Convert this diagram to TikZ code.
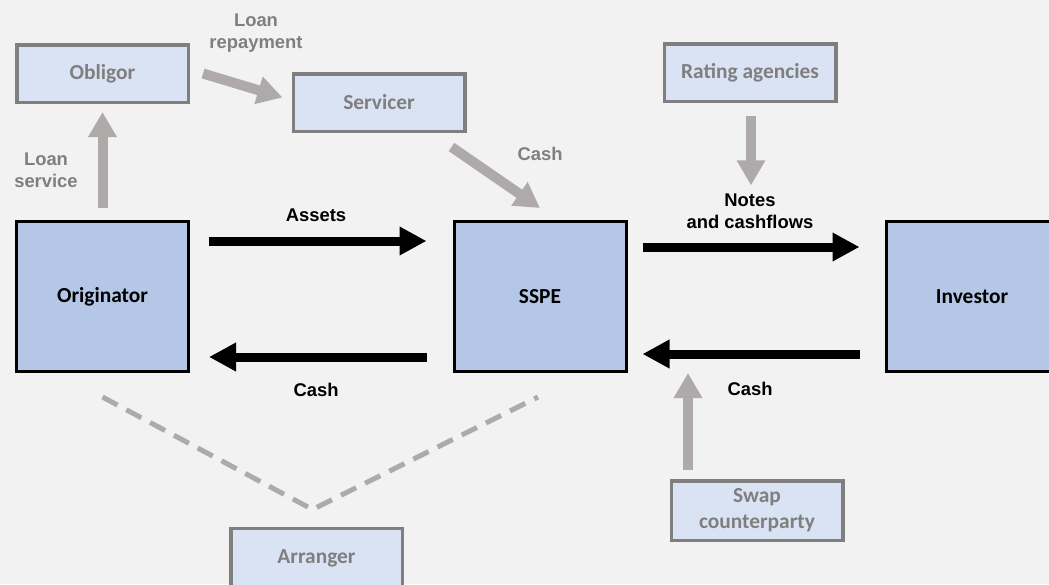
\documentclass[tikz,border=0pt]{standalone}
\usepackage{fontspec}
\setmainfont{Carlito}
\newfontfamily\arialf{Liberation Sans}
\usetikzlibrary{arrows.meta,calc}
\definecolor{bgc}{HTML}{F2F2F2}
\definecolor{lightfill}{HTML}{DAE3F3}
\definecolor{darkfill}{HTML}{B4C7E7}
\definecolor{boxgray}{HTML}{7F7F7F}
\definecolor{arrgray}{HTML}{AEAAAA}
\definecolor{txtgray}{HTML}{7F7F7F}
\tikzset{
  smallbox/.style={draw=boxgray, line width=3.5pt, fill=lightfill, text=txtgray,
    minimum width=171.5pt, minimum height=57.5pt, inner sep=0pt, align=center,
    font=\fontsize{21.4}{25}\selectfont\bfseries},
  bigbox/.style={draw=black, line width=3pt, fill=darkfill, text=black,
    minimum width=172pt, minimum height=150pt, inner sep=0pt, align=center,
    font=\fontsize{21.4}{25}\selectfont\bfseries},
  blkarrow/.style={draw=black, line width=9pt,
    -{Triangle[length=27pt,width=27pt]}},
  grayarrow/.style={draw=arrgray, line width=10pt,
    -{Triangle[length=25pt,width=27pt]}},
  dashline/.style={draw=arrgray, line width=5pt, dash pattern=on 17pt off 10pt},
  blklabel/.style={text=black, align=center, inner sep=0pt,
    font=\arialf\fontsize{18.4}{22}\selectfont\bfseries},
  graylabel/.style={text=txtgray, align=center, inner sep=0pt,
    font=\arialf\fontsize{18.4}{22}\selectfont\bfseries},
}
\begin{document}
\begin{tikzpicture}[x=1pt,y=-1pt]
\useasboundingbox (0,0) rectangle (1049,584);
\fill[bgc] (0,0) rectangle (1049,584);

% boxes
\node[smallbox] (obl) at (102.5,73.5) {Obligor};
\node[smallbox] (serv) at (379,102.5) {Servicer};
\node[smallbox] (rat) at (750,72.5) {Rating agencies};
\node[smallbox, minimum height=59.5pt] (swap) at (757,510.5) {Swap\\[1pt]counterparty};
\node[smallbox, minimum height=59.5pt] (arr) at (316.5,558) {Arranger};
\node[bigbox] (orig) at (102.5,296.5) {Originator};
\node[bigbox] (sspe) at (540,296.5) {SSPE};
\node[bigbox] (inv) at (972,296.5) {Investor};

% labels
\node[graylabel] (lrep) at (256,33) {Loan\\repayment};
\node[graylabel] (lserv) at (46,170) {Loan\\service};
\node[graylabel] (cash1) at (540,154) {Cash};
\node[blklabel] (assets) at (316,215) {Assets};
\node[blklabel] (cash2) at (316,390) {Cash};
\node[blklabel] (notes) at (750,211) {Notes\\and cashflows};
\node[blklabel] (cash3) at (750,389) {Cash};

% black arrows
\draw[blkarrow, shorten <=19pt, shorten >=26pt]
  ([yshift=55.5pt]orig.east) -- ([yshift=55.5pt]sspe.west);
\draw[blkarrow, shorten <=26pt, shorten >=19pt]
  ([yshift=-60.5pt]sspe.west) -- ([yshift=-60.5pt]orig.east);
\draw[blkarrow, shorten <=15pt, shorten >=25pt]
  ([yshift=49.5pt]sspe.east) -- ([yshift=49.5pt]inv.west);
\draw[blkarrow, shorten <=25pt, shorten >=15pt]
  ([yshift=-57.5pt]inv.west) -- ([yshift=-57.5pt]sspe.east);

% gray arrows
\draw[grayarrow, shorten <=12pt, shorten >=8pt] (orig.north) -- (obl.south);
\draw[grayarrow] ($(obl.east)+(13,0)$) -- ($(serv.west)+(-9,-5)$);
\draw[grayarrow] ($(serv.south east)+(-15,14)$) -- ($(sspe.north)+(0,-12)$);
\draw[grayarrow, shorten <=13pt, shorten >=8pt] ([xshift=1pt]rat.south) -- ([xshift=1pt]notes.north);
\draw[grayarrow] ($(swap.north)+(-69,-9)$) -- ($(swap.north)+(-69,-106)$);

% dashed lines
\draw[dashline] ($(orig.south)+(0,24)$) -- ($(arr.north)+(-4,-17)$) -- ($(sspe.south)+(-2,24)$);
\end{tikzpicture}
\end{document}
